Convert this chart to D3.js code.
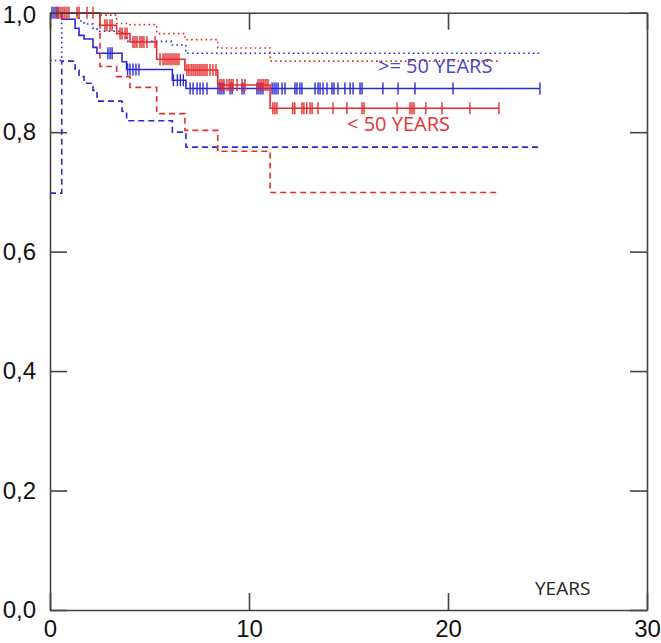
<!DOCTYPE html>
<html>
<head>
<meta charset="utf-8">
<script src="https://cdn.jsdelivr.net/npm/d3@7"></script>
<style>
  html, body { margin: 0; padding: 0; background: #fff; }
  svg { display: block; }
</style>
</head>
<body>
<svg id="chart" width="661" height="643"></svg>
<script>
// ---- data (years / survival proportion) ----
const xTicks = [0, 10, 20, 30];
const yTicks = [0, 0.2, 0.4, 0.6, 0.8, 1.0];
const yTickLabels = ["0,0", "0,2", "0,4", "0,6", "0,8", "1,0"];

// >= 50 YEARS (blue)
const blueTimes = [0.59, 1.26, 1.46, 1.71, 2.16, 2.36, 3.62, 3.85, 6.15, 6.83];
const blueSurv  = [0.989, 0.974, 0.962, 0.956, 0.942, 0.932, 0.918, 0.905, 0.887, 0.873];
const blueUpperStart = 0.92;
const blueUpper = [1.0, 0.996, 0.986, 0.981, 0.974, 0.969, 0.964, 0.952, 0.946, 0.932];
const blueLowerStart = 0.698;
const blueLower = [0.919, 0.904, 0.893, 0.882, 0.870, 0.852, 0.835, 0.819, 0.800, 0.775];
const blueEnd = 24.62;
const blueCensor = [0.1, 0.2, 0.3, 0.4, 2.91, 3.02, 3.12, 3.9, 4.02, 4.17, 4.32, 4.47,
  6.2, 6.4, 6.55, 6.7, 7.04, 7.19, 7.39, 7.54, 7.69, 7.89, 8.44, 8.54, 8.64, 8.74,
  9.05, 9.15, 9.65, 9.75, 10.4, 10.5, 10.6, 10.7, 11.16, 11.26, 11.36, 11.46, 11.66,
  11.81, 12.31, 12.41, 12.56, 12.66, 13.32, 13.47, 13.57, 13.72, 13.92, 14.17, 14.27,
  14.47, 14.82, 15.08, 15.23, 15.58, 15.68, 16.73, 17.49, 18.34, 20.25, 24.62];

// < 50 YEARS (red)
const redTimes = [2.51, 3.35, 4.02, 5.36, 6.78, 8.43, 11.06];
const redSurv  = [0.979, 0.965, 0.951, 0.922, 0.904, 0.879, 0.840];
const redUpperStart = 1.0;
const redUpper = [0.996, 0.982, 0.980, 0.965, 0.955, 0.941, 0.919];
const redLowerStart = 1.0;
const redLower = [0.910, 0.893, 0.875, 0.831, 0.803, 0.768, 0.699];
const redEnd = 22.56;
const redCensor = [0.35, 0.45, 0.55, 0.65, 0.75, 0.85, 0.95, 1.36, 1.46, 1.86, 2.16,
  2.76, 2.86, 3.02, 3.12, 3.52, 3.62, 3.77, 3.87, 4.17, 4.27, 4.37, 4.52, 4.62, 4.72,
  4.87, 5.28, 5.53, 5.68, 5.78, 5.88, 5.98, 6.08, 6.18, 6.28, 6.38, 6.48, 6.88, 6.98,
  7.09, 7.19, 7.29, 7.39, 7.49, 7.59, 7.69, 7.79, 7.89, 8.04, 8.19, 8.34, 8.54, 8.64,
  8.74, 8.89, 9.0, 9.1, 9.2, 9.4, 9.65, 9.8, 10.45, 10.55, 10.65, 10.75, 10.85, 10.95,
  11.2, 11.3, 11.4, 12.2, 12.3, 12.66, 12.76, 12.9, 13.07, 13.17, 13.47, 14.22, 14.92,
  15.68, 15.78, 17.44, 18.09, 18.19, 18.29, 18.89, 19.7, 21.1, 22.56];

const groupNames = [">= 50 YEARS", "< 50 YEARS"];
const xTitle = "YEARS";

// ---- drawing ----
const svg = d3.select("#chart");
const L = 50, R = 647, T = 12.7, B = 610;
const x = d3.scaleLinear().domain([0, 30]).range([L, R]);
const y = d3.scaleLinear().domain([0, 1]).range([B, T]);

const BLUE = "#2b2bd6", RED = "#e52b2b";
const AX = "#444";

function stepPts(start, times, vals, end) {
  const pts = [[0, start]];
  times.forEach((t, i) => pts.push([t, vals[i]]));
  pts.push([end, vals[vals.length - 1]]);
  return pts;
}
const line = d3.line().x(d => x(d[0])).y(d => y(d[1])).curve(d3.curveStepAfter);

function survAt(t, times, vals) {
  let s = 1;
  times.forEach((tt, i) => { if (t >= tt) s = vals[i]; });
  return s;
}

function drawGroup(color, times, surv, uStart, upper, lStart, lower, end, censor) {
  const g = svg.append("g");
  g.append("path").attr("d", line(stepPts(uStart, times, upper, end)))
    .attr("fill", "none").attr("stroke", color).attr("stroke-width", 1.6)
    .attr("stroke-dasharray", "1.6,3.2");
  g.append("path").attr("d", line(stepPts(lStart, times, lower, end)))
    .attr("fill", "none").attr("stroke", color).attr("stroke-width", 1.6)
    .attr("stroke-dasharray", "6,4");
  g.append("path").attr("d", line(stepPts(1, times, surv, end)))
    .attr("fill", "none").attr("stroke", color).attr("stroke-width", 1.6);
  g.selectAll("line.c").data(censor).enter().append("line")
    .attr("x1", d => x(d)).attr("x2", d => x(d))
    .attr("y1", d => y(survAt(d, times, surv)) - 6)
    .attr("y2", d => y(survAt(d, times, surv)) + 6)
    .attr("stroke", color).attr("stroke-width", 1.4);
}

drawGroup(BLUE, blueTimes, blueSurv, blueUpperStart, blueUpper, blueLowerStart, blueLower, blueEnd, blueCensor);
drawGroup(RED, redTimes, redSurv, redUpperStart, redUpper, redLowerStart, redLower, redEnd, redCensor);

// axes (inward ticks on all four sides)
const font = "'Liberation Sans', Arial, sans-serif";
const ax = svg.append("g").attr("transform", `translate(0,${B})`)
  .call(d3.axisBottom(x).tickValues(xTicks).tickSizeInner(-17).tickSizeOuter(0).tickPadding(13).tickFormat(d3.format("d")));
const ay = svg.append("g").attr("transform", `translate(${L},0)`)
  .call(d3.axisLeft(y).tickValues(yTicks).tickSizeInner(-17).tickSizeOuter(0).tickPadding(13).tickFormat((d, i) => yTickLabels[i]));
const axT = svg.append("g").attr("transform", `translate(0,${T})`)
  .call(d3.axisTop(x).tickValues(xTicks).tickSizeInner(-17).tickSizeOuter(0).tickFormat(""));
const ayR = svg.append("g").attr("transform", `translate(${R},0)`)
  .call(d3.axisRight(y).tickValues(yTicks).tickSizeInner(-17).tickSizeOuter(0).tickFormat(""));

[ax, ay, axT, ayR].forEach(a => {
  a.selectAll("path.domain").attr("stroke", AX).attr("stroke-width", 1.6);
  a.selectAll(".tick line").attr("stroke", AX).attr("stroke-width", 1.6);
  a.selectAll("text").attr("fill", "#111").style("font-family", font).style("font-size", "24px");
});
ax.selectAll("text").attr("y", 27).attr("dy", 0);
ay.selectAll("text").attr("dx", "-1");
ay.selectAll(".tick").filter(d => d === 1).select("text").attr("y", 2);

// labels
svg.append("text").attr("x", 378).attr("y", 73).text(groupNames[0])
  .attr("fill", "#4747c8").style("font-family", "'Open Sans', sans-serif").style("font-size", "20px");
svg.append("text").attr("x", 347).attr("y", 131).text(groupNames[1])
  .attr("fill", "#e23434").style("font-family", "'Open Sans', sans-serif").style("font-size", "20px");
svg.append("text").attr("x", 535).attr("y", 595).text(xTitle)
  .attr("fill", "#222").style("font-family", "'Open Sans', sans-serif").style("font-size", "19px");
</script>
</body>
</html>
